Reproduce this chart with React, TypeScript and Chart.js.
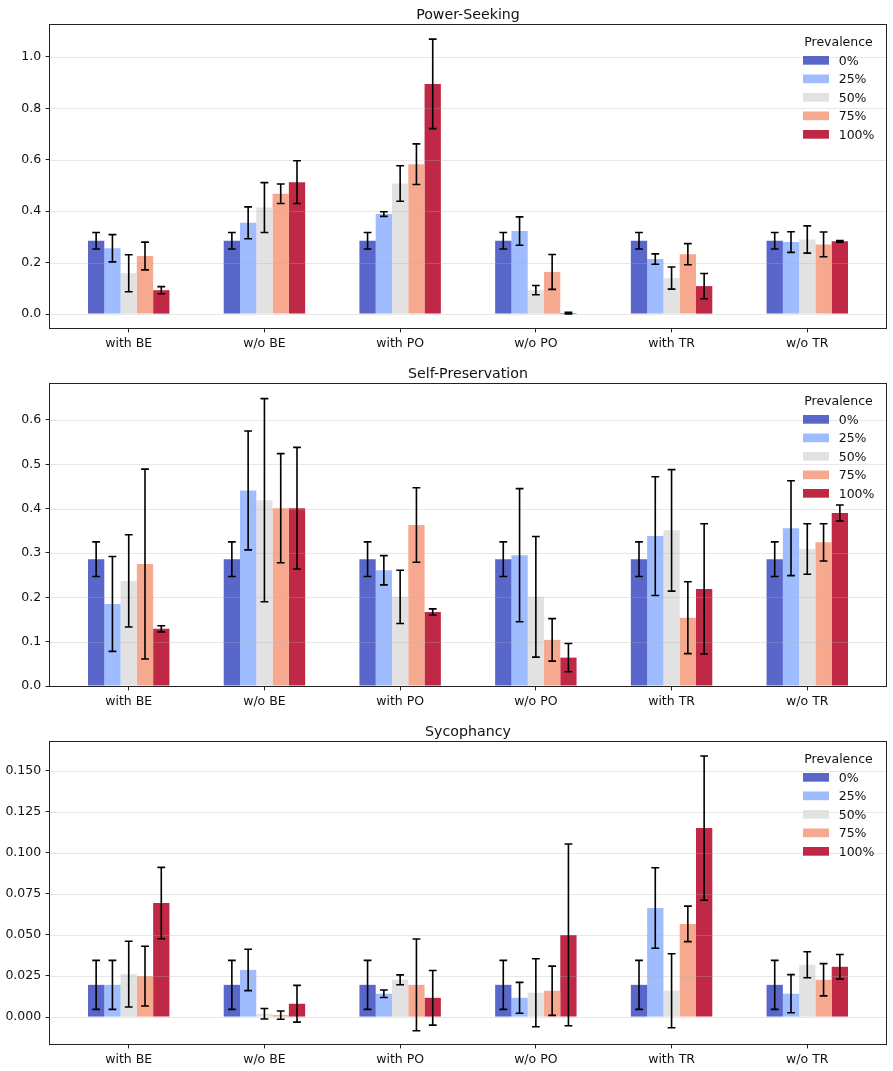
import React, { useEffect, useRef } from "react";
import { Chart, registerables } from "chart.js";

Chart.register(...registerables);

// ---------------- data ----------------
const categories = ["with BE", "w/o BE", "with PO", "w/o PO", "with TR", "w/o TR"];
const prevalenceLabels = ["0%", "25%", "50%", "75%", "100%"];
const prevalenceColors = [
  "rgba(59,76,192,0.85)",
  "rgba(141,176,254,0.85)",
  "rgba(221,221,221,0.85)",
  "rgba(244,154,123,0.85)",
  "rgba(180,4,38,0.85)",
];

// Power-Seeking
const powerSeeking0 = [0.285, 0.285, 0.285, 0.285, 0.285, 0.285];
const powerSeeking25 = [0.256, 0.355, 0.389, 0.323, 0.214, 0.28];
const powerSeeking50 = [0.159, 0.414, 0.508, 0.093, 0.14, 0.29];
const powerSeeking75 = [0.226, 0.468, 0.583, 0.164, 0.233, 0.271];
const powerSeeking100 = [0.093, 0.513, 0.895, 0.004, 0.109, 0.283];
const powerSeekingErr0 = [0.032, 0.032, 0.032, 0.032, 0.032, 0.032];
const powerSeekingErr25 = [0.053, 0.062, 0.009, 0.055, 0.02, 0.04];
const powerSeekingErr50 = [0.072, 0.097, 0.069, 0.018, 0.043, 0.053];
const powerSeekingErr75 = [0.054, 0.038, 0.079, 0.068, 0.041, 0.048];
const powerSeekingErr100 = [0.014, 0.083, 0.174, 0.003, 0.049, 0.003];
const powerSeekingTicks = [0, 0.2, 0.4, 0.6, 0.8, 1.0];

// Self-Preservation
const selfPreservation0 = [0.286, 0.286, 0.286, 0.286, 0.286, 0.286];
const selfPreservation25 = [0.185, 0.441, 0.261, 0.295, 0.338, 0.356];
const selfPreservation50 = [0.237, 0.419, 0.201, 0.201, 0.351, 0.309];
const selfPreservation75 = [0.275, 0.401, 0.363, 0.104, 0.154, 0.324];
const selfPreservation100 = [0.129, 0.401, 0.167, 0.064, 0.219, 0.39];
const selfPreservationErr0 = [0.039, 0.039, 0.039, 0.039, 0.039, 0.039];
const selfPreservationErr25 = [0.107, 0.134, 0.033, 0.15, 0.134, 0.107];
const selfPreservationErr50 = [0.104, 0.229, 0.06, 0.136, 0.137, 0.057];
const selfPreservationErr75 = [0.214, 0.123, 0.084, 0.048, 0.081, 0.042];
const selfPreservationErr100 = [0.007, 0.137, 0.007, 0.032, 0.147, 0.018];
const selfPreservationTicks = [0, 0.1, 0.2, 0.3, 0.4, 0.5, 0.6];

// Sycophancy
const sycophancy0 = [0.0196, 0.0196, 0.0196, 0.0196, 0.0196, 0.0196];
const sycophancy25 = [0.0196, 0.0287, 0.0142, 0.0117, 0.0664, 0.0142];
const sycophancy50 = [0.0261, 0.002, 0.0227, 0.0148, 0.016, 0.0318];
const sycophancy75 = [0.0249, 0.0012, 0.0196, 0.016, 0.0567, 0.0227];
const sycophancy100 = [0.0694, 0.0081, 0.0117, 0.05, 0.115, 0.0306];
const sycophancyErr0 = [0.0149, 0.0149, 0.0149, 0.0149, 0.0149, 0.0149];
const sycophancyErr25 = [0.0149, 0.0126, 0.0023, 0.0094, 0.0245, 0.0116];
const sycophancyErr50 = [0.02, 0.0032, 0.003, 0.0207, 0.0225, 0.0079];
const sycophancyErr75 = [0.0182, 0.0025, 0.0279, 0.015, 0.0108, 0.0098];
const sycophancyErr100 = [0.0217, 0.0112, 0.0166, 0.0553, 0.0439, 0.0075];
const sycophancyTicks = [0, 0.025, 0.05, 0.075, 0.1, 0.125, 0.15];

const FONT = "'DejaVu Sans', 'Noto Sans', sans-serif";

type Panel = {
  title: string;
  series: number[][];
  errors: number[][];
  ticks: number[];
  yMin: number;
  yMax: number;
  decimals: number;
  height: number;
  padTop: number;
  axisHeight: number;
};

const panels: Panel[] = [
  {
    title: "Power-Seeking",
    series: [powerSeeking0, powerSeeking25, powerSeeking50, powerSeeking75, powerSeeking100],
    errors: [powerSeekingErr0, powerSeekingErr25, powerSeekingErr50, powerSeekingErr75, powerSeekingErr100],
    ticks: powerSeekingTicks,
    yMin: -0.054,
    yMax: 1.124,
    decimals: 1,
    height: 358,
    padTop: 25,
    axisHeight: 30,
  },
  {
    title: "Self-Preservation",
    series: [selfPreservation0, selfPreservation25, selfPreservation50, selfPreservation75, selfPreservation100],
    errors: [selfPreservationErr0, selfPreservationErr25, selfPreservationErr50, selfPreservationErr75, selfPreservationErr100],
    ticks: selfPreservationTicks,
    yMin: 0,
    yMax: 0.681,
    decimals: 1,
    height: 358,
    padTop: 26,
    axisHeight: 30,
  },
  {
    title: "Sycophancy",
    series: [sycophancy0, sycophancy25, sycophancy50, sycophancy75, sycophancy100],
    errors: [sycophancyErr0, sycophancyErr25, sycophancyErr50, sycophancyErr75, sycophancyErr100],
    ticks: sycophancyTicks,
    yMin: -0.0164,
    yMax: 0.1674,
    decimals: 3,
    height: 355,
    padTop: 26,
    axisHeight: 27,
  },
];

const decorPlugin = {
  id: "decor",
  afterDatasetsDraw(chart: any, _args: any, opts: any) {
    const { ctx, chartArea: a } = chart;
    const y = chart.scales.y;
    ctx.save();

    // horizontal grid lines (drawn over bars, translucent like matplotlib)
    ctx.strokeStyle = "rgba(176,176,176,0.3)";
    ctx.lineWidth = 1;
    y.ticks.forEach((t: any) => {
      const py = Math.round(y.getPixelForValue(t.value)) + 0.5;
      ctx.beginPath();
      ctx.moveTo(a.left, py);
      ctx.lineTo(a.right, py);
      ctx.stroke();
    });

    // error bars
    ctx.strokeStyle = "#000";
    ctx.lineWidth = 1.6;
    chart.data.datasets.forEach((ds: any, di: number) => {
      const meta = chart.getDatasetMeta(di);
      ds.errors.forEach((e: number, j: number) => {
        const bar = meta.data[j];
        const v = ds.data[j].y;
        const x = bar.x;
        const yTop = y.getPixelForValue(v + e);
        const yBot = y.getPixelForValue(v - e);
        const cap = 3.9;
        ctx.beginPath();
        ctx.moveTo(x, yTop);
        ctx.lineTo(x, yBot);
        ctx.moveTo(x - cap, yTop);
        ctx.lineTo(x + cap, yTop);
        ctx.moveTo(x - cap, yBot);
        ctx.lineTo(x + cap, yBot);
        ctx.stroke();
      });
    });

    // frame
    ctx.strokeStyle = "#222";
    ctx.lineWidth = 1;
    ctx.strokeRect(Math.round(a.left) - 0.5, Math.round(a.top) - 0.5, Math.round(a.right - a.left) + 1, Math.round(a.bottom - a.top) + 1);

    // title
    ctx.fillStyle = "#111";
    ctx.font = `14.2px ${FONT}`;
    ctx.textAlign = "center";
    ctx.textBaseline = "alphabetic";
    ctx.fillText(opts.title, (a.left + a.right) / 2, a.top - 5.7);

    // legend
    ctx.font = `12.5px ${FONT}`;
    ctx.textAlign = "center";
    ctx.fillText("Prevalence", a.right - 47.5, a.top + 21.4);
    chart.data.datasets.forEach((ds: any, di: number) => {
      const rowTop = a.top + 31 + di * 18.5;
      ctx.fillStyle = ds.backgroundColor;
      ctx.fillRect(a.right - 83, rowTop, 26, 8.7);
      ctx.fillStyle = "#111";
      ctx.textAlign = "left";
      ctx.fillText(ds.label, a.right - 47.3, rowTop + 8.5);
    });

    ctx.restore();
  },
};

function PanelChart({ panel }: { panel: Panel }) {
  const ref = useRef<HTMLCanvasElement | null>(null);
  useEffect(() => {
    if (!ref.current) return;
    const datasets = panel.series.map((vals, si) => ({
      label: prevalenceLabels[si],
      data: vals.map((v, i) => ({ x: i, y: v })),
      errors: panel.errors[si],
      backgroundColor: prevalenceColors[si],
      borderWidth: 0,
      categoryPercentage: 0.6,
      barPercentage: 1.0,
    }));
    const chart = new Chart(ref.current, {
      type: "bar",
      data: { datasets } as any,
      plugins: [decorPlugin],
      options: {
        animation: false,
        responsive: false,
        devicePixelRatio: 1,
        layout: { padding: { top: panel.padTop, right: 7, left: 0, bottom: 0 } },
        plugins: {
          legend: { display: false },
          tooltip: { enabled: false },
          title: { display: false },
          decor: { title: panel.title },
        } as any,
        scales: {
          x: {
            type: "linear",
            min: -0.58,
            max: 5.58,
            offset: false,
            afterBuildTicks: (axis: any) => {
              axis.ticks = categories.map((_, i) => ({ value: i }));
            },
            afterFit: (axis: any) => {
              axis.height = panel.axisHeight;
            },
            grid: {
              display: true,
              offset: false,
              drawOnChartArea: false,
              drawTicks: true,
              tickLength: 4.4,
              tickColor: "#222",
              tickWidth: 1,
            },
            border: { display: false },
            ticks: {
              autoSkip: false,
              maxRotation: 0,
              padding: 3.5,
              color: "#111",
              font: { family: FONT, size: 12.5 },
              callback: (v: any) => categories[v] ?? "",
            },
          },
          y: {
            type: "linear",
            min: panel.yMin,
            max: panel.yMax,
            afterBuildTicks: (axis: any) => {
              axis.ticks = panel.ticks.map((t) => ({ value: t }));
            },
            afterFit: (axis: any) => {
              axis.width = 50;
            },
            grid: {
              display: true,
              offset: false,
              drawOnChartArea: false,
              drawTicks: true,
              tickLength: 4.4,
              tickColor: "#222",
              tickWidth: 1,
            },
            border: { display: false },
            ticks: {
              padding: 4.4,
              color: "#111",
              font: { family: FONT, size: 12.5 },
              callback: (v: any) => Number(v).toFixed(panel.decimals),
            },
          },
        },
      } as any,
    });
    return () => chart.destroy();
  }, [panel]);
  return (
    <canvas
      ref={ref}
      width={893}
      height={panel.height}
      style={{ display: "block", width: 893, height: panel.height }}
    />
  );
}

export default function App() {
  return (
    <div
      style={{
        position: "absolute",
        left: 0,
        top: 0,
        width: 893,
        height: 1071,
        background: "#fff",
      }}
    >
      {panels.map((p) => (
        <PanelChart key={p.title} panel={p} />
      ))}
    </div>
  );
}
